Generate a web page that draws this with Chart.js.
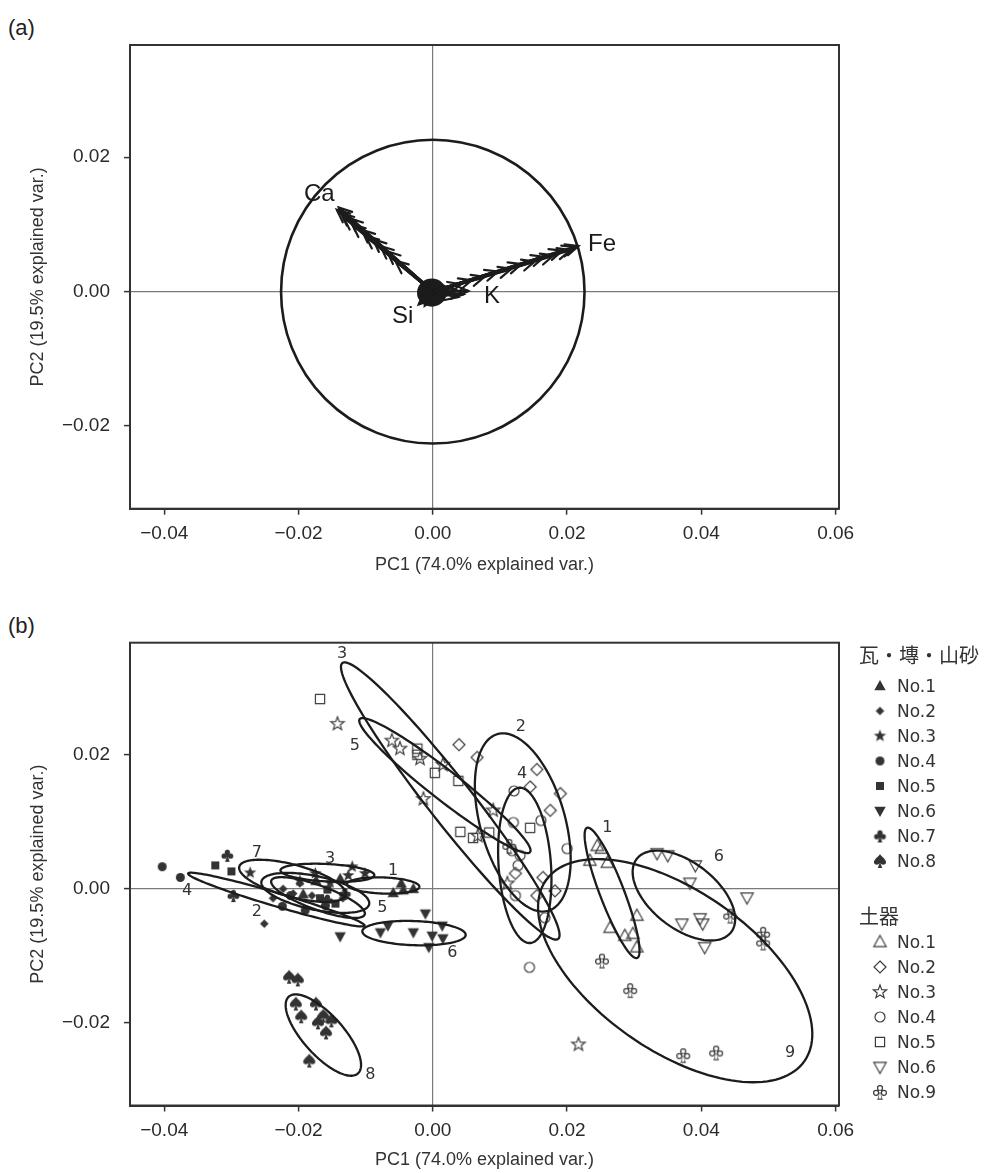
<!DOCTYPE html>
<html>
<head>
<meta charset="utf-8">
<script src="https://cdn.jsdelivr.net/npm/chart.js@4.4.1/dist/chart.umd.min.js"></script>
<style>
body { margin: 0; background: #fff; width: 988px; height: 1173px; position: relative; overflow: hidden;
       font-family: "Liberation Sans", Arial, sans-serif; color: #222; }
.panel { position: absolute; left: 0; width: 988px; }
.tag { position: absolute; left: 8px; font-size: 22px; line-height: 24px; }
#legend { position: absolute; left: 859px; top: 0; color: #333; }
.hd { position: absolute; left: 0; white-space: nowrap; font-family: "Noto Sans CJK JP", sans-serif; font-size: 20px; line-height: 28px; }
.it { position: absolute; left: 9px; white-space: nowrap; font-family: "DejaVu Sans", Verdana, sans-serif; font-size: 17px; line-height: 22px; }
.it .sym { display: inline-block; width: 24px; height: 22px; margin-right: 5px; vertical-align: top; position: relative; }
.it .sym canvas { position: absolute; left: 50%; top: 50%; transform: translate(-50%, -50%); }
</style>
</head>
<body>
<div class="tag" style="top:16px">(a)</div>
<div class="tag" style="top:614px">(b)</div>
<div class="panel" style="top:0;height:597px"><canvas id="chartA" width="988" height="597"></canvas></div>
<div class="panel" style="top:597px;height:576px"><canvas id="chartB" width="988" height="576"></canvas></div>
<div id="legend"></div>
<script>
// shared axes
const xTicks = [-0.04, -0.02, 0, 0.02, 0.04, 0.06];
const yTicks = [-0.02, 0, 0.02];
const xTitle = 'PC1 (74.0% explained var.)';
const yTitle = 'PC2 (19.5% explained var.)';

// (a) loading arrows, tip coordinates per element
const caTips = [[-0.0143, 0.0122], [-0.0140, 0.0125], [-0.0137, 0.0117], [-0.0133, 0.0111], [-0.0124, 0.0109], [-0.0120, 0.0100],
                [-0.0106, 0.0092], [-0.0100, 0.0083], [-0.0089, 0.0078], [-0.0078, 0.0068], [-0.0068, 0.0060], [-0.0056, 0.0046]];
const feTips = [[0.0217, 0.0068], [0.0212, 0.0066], [0.0205, 0.0062], [0.0193, 0.0061], [0.0180, 0.0054], [0.0166, 0.0052],
                [0.0152, 0.0045], [0.0132, 0.0041], [0.0117, 0.0034], [0.0097, 0.0030], [0.0077, 0.0022], [0.0058, 0.0017], [0.0042, 0.0011]];
const siTips = [[-0.0021, -0.0019], [-0.0016, -0.0011], [-0.0009, -0.0017], [-0.0019, -0.0005], [-0.0012, -0.0021]];
const kTips = [[0.0046, -0.0004], [0.0038, -0.0008], [0.0029, -0.0003], [0.0053, 0.0001], [0.0034, 0.0002]];
const varLabels = ['Ca', 'Fe', 'Si', 'K'];
const varLabelAt = [[-0.0169, 0.0144], [0.0252, 0.0070], [-0.0045, -0.0037], [0.0088, -0.0007]];
const circleR = 0.0226;
const blobR = 0.0022;

// (b) scores: 瓦・塼・山砂 (filled) and 土器 (open)
const tileNames = ['No.1', 'No.2', 'No.3', 'No.4', 'No.5', 'No.6', 'No.7', 'No.8'];
const tile1 = [[-0.0193, -0.0008], [-0.0174, 0.0012], [-0.0138, 0.0015], [-0.0059, -0.0006], [-0.0047, 0.0008], [-0.0029, 0.0000], [-0.0044, -0.0002]];
const tile2 = [[-0.0251, -0.0052], [-0.0223, 0.0000], [-0.0208, -0.0007], [-0.0238, -0.0014], [-0.0198, 0.0008], [-0.0180, -0.0010], [-0.0160, -0.0017], [-0.0134, -0.0014]];
const tile3 = [[-0.0272, 0.0024], [-0.0175, 0.0023], [-0.0153, 0.0009], [-0.0126, 0.0020], [-0.0120, 0.0033], [-0.0101, 0.0023], [-0.0198, 0.0012]];
const tile4 = [[-0.0403, 0.0033], [-0.0376, 0.0017], [-0.0224, -0.0026], [-0.0190, -0.0032], [-0.0160, -0.0025], [-0.0212, -0.0010]];
const tile5 = [[-0.0324, 0.0035], [-0.0300, 0.0026], [-0.0168, -0.0014], [-0.0145, -0.0022], [-0.0157, -0.0001]];
const tile6 = [[-0.0138, -0.0071], [-0.0078, -0.0065], [-0.0067, -0.0055], [-0.0029, -0.0065], [-0.0011, -0.0037], [-0.0001, -0.0070], [0.0014, -0.0055], [0.0015, -0.0074], [-0.0006, -0.0087]];
const tile7 = [[-0.0306, 0.0050], [-0.0297, -0.0010], [-0.0157, -0.0017], [-0.0131, -0.0007]];
const tile8 = [[-0.0214, -0.0131], [-0.0201, -0.0135], [-0.0204, -0.0171], [-0.0196, -0.0190], [-0.0174, -0.0171], [-0.0171, -0.0199], [-0.0151, -0.0196], [-0.0159, -0.0214], [-0.0163, -0.0189], [-0.0184, -0.0256]];

const potNames = ['No.1', 'No.2', 'No.3', 'No.4', 'No.5', 'No.6', 'No.9'];
const pot1 = [[0.0245, 0.0064], [0.0251, 0.0060], [0.0234, 0.0042], [0.0260, 0.0039], [0.0304, -0.0040], [0.0264, -0.0058], [0.0286, -0.0070], [0.0298, -0.0067], [0.0304, -0.0087]];
const pot2 = [[0.0039, 0.0215], [0.0066, 0.0196], [0.0155, 0.0178], [0.0145, 0.0152], [0.0190, 0.0142], [0.0175, 0.0117], [0.0164, 0.0017], [0.0155, -0.0010], [0.0182, -0.0003], [0.0123, 0.0023]];
const pot3 = [[-0.0142, 0.0246], [-0.0061, 0.0221], [-0.0049, 0.0209], [-0.0019, 0.0194], [0.0015, 0.0185], [-0.0014, 0.0134], [0.0090, 0.0117], [0.0067, 0.0079], [0.0111, 0.0008], [0.0217, -0.0232]];
const pot4 = [[0.0121, 0.0146], [0.0120, 0.0099], [0.0161, 0.0102], [0.0200, 0.0060], [0.0130, 0.0050], [0.0127, 0.0035], [0.0123, -0.0010], [0.0167, -0.0043], [0.0144, -0.0117], [0.0118, 0.0057]];
const pot5 = [[-0.0168, 0.0283], [-0.0023, 0.0209], [-0.0023, 0.0200], [0.0003, 0.0173], [0.0038, 0.0161], [0.0041, 0.0085], [0.0060, 0.0076], [0.0084, 0.0084], [0.0145, 0.0091]];
const pot6 = [[0.0334, 0.0053], [0.0350, 0.0050], [0.0391, 0.0035], [0.0383, 0.0009], [0.0468, -0.0013], [0.0371, -0.0052], [0.0398, -0.0044], [0.0402, -0.0052], [0.0405, -0.0087]];
const pot9 = [[0.0443, -0.0040], [0.0492, -0.0067], [0.0492, -0.0080], [0.0252, -0.0107], [0.0294, -0.0151], [0.0373, -0.0248], [0.0422, -0.0244], [0.0114, 0.0064]];

// confidence ellipses: centre x, centre y, semi-major, semi-minor, angle (deg)
const tileEllipses = [[-0.0074, 0.0005, 0.0054, 0.0012, -2], [-0.0175, -0.0006, 0.0082, 0.0025, -12], [-0.0157, 0.0024, 0.0070, 0.0013, -3],
                      [-0.0233, -0.0016, 0.0137, 0.0010, -16.5], [-0.0171, -0.0013, 0.0074, 0.0018, -20], [-0.0028, -0.0066, 0.0077, 0.0018, -2],
                      [-0.0209, 0.0012, 0.0082, 0.0024, -15], [-0.0163, -0.0218, 0.0077, 0.0030, -48]];
const tileEllipseTags = ['1', '2', '3', '4', '5', '6', '7', '8'];
const tileTagAt = [[-0.0059, 0.0027], [-0.0262, -0.0035], [-0.0153, 0.0045], [-0.0366, -0.0003], [-0.0075, -0.0029], [0.0029, -0.0096], [-0.0262, 0.0053], [-0.0093, -0.0278]];
const potEllipses = [[0.0267, -0.0006, 0.0104, 0.0018, -69], [0.0134, 0.0099, 0.0137, 0.0063, -74], [0.0026, 0.0131, 0.0261, 0.0033, -52],
                     [0.0137, 0.0035, 0.0116, 0.0039, -86], [0.0018, 0.0154, 0.0161, 0.0022, -38], [0.0374, -0.0010, 0.0089, 0.0049, -38],
                     [0.0361, -0.0122, 0.0235, 0.0119, -35]];
const potEllipseTags = ['1', '2', '3', '4', '5', '6', '9'];
const potTagAt = [[0.0260, 0.0091], [0.0131, 0.0242], [-0.0135, 0.0350], [0.0133, 0.0172], [-0.0116, 0.0213], [0.0426, 0.0047], [0.0532, -0.0245]];

const INK = '#1c1c1c';
const fmt = v => (v < -1e-9 ? '\u2212' : '') + Math.abs(v).toFixed(2);

function scaleOpts(axis, ticks, min, max, title, fit, titlePad) {
  return {
    type: 'linear', min: min, max: max,
    afterBuildTicks: s => { s.ticks = ticks.map(v => ({ value: v })); },
    afterFit: s => { if (axis === 'x') s.height = fit; else s.width = fit; },
    grid: {
      color: c => (c.tick && Math.abs(c.tick.value) < 1e-9 ? '#7a7a7a' : 'rgba(0,0,0,0)'),
      lineWidth: 1.2, tickColor: '#333', tickLength: 6, tickWidth: 1.5
    },
    border: { display: true, color: '#333', width: 2 },
    ticks: { color: '#2a2a2a', font: { family: 'Liberation Sans', size: 19 }, padding: axis === 'x' ? 8 : 14,
             autoSkip: false, maxRotation: 0, callback: v => fmt(v) },
    title: { display: true, text: title, color: '#333', font: { family: 'Liberation Sans', size: 18 }, padding: titlePad }
  };
}

const frame = {
  id: 'frame',
  afterDraw(chart) {
    const { ctx, chartArea: a } = chart;
    ctx.save();
    ctx.strokeStyle = '#333';
    ctx.lineWidth = 2;
    ctx.strokeRect(a.left, a.top, a.right - a.left, a.bottom - a.top);
    ctx.restore();
  }
};

// ---------- (a) biplot ----------
function arrowSet(tips) {
  return tips.map(t => ({
    data: [{ x: 0, y: 0 }, { x: t[0], y: t[1] }],
    showLine: true, arrow: true, borderColor: INK, borderWidth: 2.8, pointRadius: 0
  }));
}

const biplotDraw = {
  id: 'biplotDraw',
  beforeDatasetsDraw(chart) {
    const { ctx, scales: { x, y } } = chart;
    const cx = x.getPixelForValue(0), cy = y.getPixelForValue(0);
    ctx.save();
    ctx.strokeStyle = INK;
    ctx.lineWidth = 2.6;
    ctx.beginPath();
    ctx.ellipse(cx, cy, x.getPixelForValue(circleR) - cx, cy - y.getPixelForValue(circleR), 0, 0, 2 * Math.PI);
    ctx.stroke();
    const br = x.getPixelForValue(blobR) - cx;
    ctx.fillStyle = INK;
    ctx.beginPath();
    ctx.ellipse(cx - 1, cy + 1, br, br * 0.95, 0, 0, 2 * Math.PI);
    ctx.fill();
    ctx.restore();
  },
  afterDatasetsDraw(chart) {
    const { ctx, scales: { x, y } } = chart;
    ctx.save();
    ctx.strokeStyle = INK;
    ctx.lineWidth = 2.2;
    ctx.lineCap = 'round';
    chart.data.datasets.forEach((ds, i) => {
      if (!ds.arrow) return;
      const pts = chart.getDatasetMeta(i).data;
      const p0 = pts[0], p1 = pts[1];
      const ang = Math.atan2(p1.y - p0.y, p1.x - p0.x);
      const L = 14, w = 0.42;
      ctx.beginPath();
      ctx.moveTo(p1.x - L * Math.cos(ang - w), p1.y - L * Math.sin(ang - w));
      ctx.lineTo(p1.x, p1.y);
      ctx.lineTo(p1.x - L * Math.cos(ang + w), p1.y - L * Math.sin(ang + w));
      ctx.stroke();
    });
    ctx.fillStyle = '#1a1a1a';
    ctx.font = '24px "Liberation Sans"';
    ctx.textAlign = 'center';
    ctx.textBaseline = 'middle';
    varLabels.forEach((t, i) => {
      ctx.fillText(t, x.getPixelForValue(varLabelAt[i][0]), y.getPixelForValue(varLabelAt[i][1]));
    });
    ctx.restore();
  }
};

new Chart(document.getElementById('chartA'), {
  type: 'scatter',
  data: { datasets: [...arrowSet(caTips), ...arrowSet(feTips), ...arrowSet(siTips), ...arrowSet(kTips)] },
  options: {
    responsive: false, animation: false, events: [],
    layout: { padding: { left: 0, top: 45, right: 149, bottom: 0 } },
    plugins: { legend: { display: false }, tooltip: { enabled: false } },
    scales: {
      x: scaleOpts('x', xTicks, -0.0451, 0.0605, xTitle, 88.3, { top: 0, bottom: 21 }),
      y: scaleOpts('y', yTicks, -0.0323, 0.0367, yTitle, 130, { top: 27, bottom: 0 })
    }
  },
  plugins: [biplotDraw, frame]
});

// ---------- (b) scores ----------
function fillParts(g, parts) { parts.forEach(p => { g.beginPath(); p(); g.fill(); }); }

function clubParts(g, r, k) {
  // k: inset used to hollow the outline version
  const circ = (x, y, rr) => () => g.arc(x, y, Math.max(rr - k, 0.5), 0, 2 * Math.PI);
  const poly = pts => () => { pts.forEach((p, i) => (i ? g.lineTo(p[0], p[1]) : g.moveTo(p[0], p[1]))); g.closePath(); };
  return [circ(0, -0.5 * r, 0.4 * r), circ(-0.5 * r, 0.1 * r, 0.4 * r), circ(0.5 * r, 0.1 * r, 0.4 * r),
          circ(0, -0.05 * r, 0.3 * r), poly([[0, -0.05 * r], [-0.36 * r + k, r - k], [0.36 * r - k, r - k]])];
}

function spadeParts(g, r) {
  return [() => {
    g.moveTo(0, -r);
    g.bezierCurveTo(0.25 * r, -0.55 * r, 0.95 * r, -0.2 * r, 0.85 * r, 0.25 * r);
    g.bezierCurveTo(0.75 * r, 0.62 * r, 0.25 * r, 0.62 * r, 0, 0.3 * r);
    g.bezierCurveTo(-0.25 * r, 0.62 * r, -0.75 * r, 0.62 * r, -0.85 * r, 0.25 * r);
    g.bezierCurveTo(-0.95 * r, -0.2 * r, -0.25 * r, -0.55 * r, 0, -r);
    g.closePath();
  }, () => { g.moveTo(0, 0.15 * r); g.lineTo(-0.32 * r, r); g.lineTo(0.32 * r, r); g.closePath(); }];
}

function makeMarker(kind, open, r) {
  const s = Math.ceil(2 * r + 6);
  const c = document.createElement('canvas');
  c.width = s; c.height = s;
  const g = c.getContext('2d');
  g.translate(s / 2, s / 2);
  const ink = open ? '#3c3c3c' : '#333';
  g.fillStyle = ink; g.strokeStyle = ink; g.lineWidth = 1.2;
  if (kind === 'club') {
    fillParts(g, clubParts(g, r, 0));
    if (open) {
      g.globalCompositeOperation = 'destination-out';
      fillParts(g, clubParts(g, r, 1.25));
    }
    return c;
  }
  if (kind === 'spade') { fillParts(g, spadeParts(g, r)); return c; }
  g.beginPath();
  if (kind === 'tri') { g.moveTo(0, -r); g.lineTo(0.95 * r, 0.7 * r); g.lineTo(-0.95 * r, 0.7 * r); }
  else if (kind === 'tridown') { g.moveTo(0, r); g.lineTo(0.95 * r, -0.7 * r); g.lineTo(-0.95 * r, -0.7 * r); }
  else if (kind === 'diamond') { g.moveTo(0, -r); g.lineTo(r, 0); g.lineTo(0, r); g.lineTo(-r, 0); }
  else if (kind === 'square') { g.rect(-r, -r, 2 * r, 2 * r); }
  else if (kind === 'circle') { g.arc(0, 0, r, 0, 2 * Math.PI); }
  else if (kind === 'star') {
    for (let i = 0; i < 10; i++) {
      const rr = i % 2 ? r * 0.42 : r, a = -Math.PI / 2 + i * Math.PI / 5;
      i ? g.lineTo(rr * Math.cos(a), rr * Math.sin(a)) : g.moveTo(rr * Math.cos(a), rr * Math.sin(a));
    }
  }
  g.closePath();
  open ? g.stroke() : g.fill();
  return c;
}

const tileShapes = ['tri', 'diamond', 'star', 'circle', 'square', 'tridown', 'club', 'spade'];
const tileSizes = [6, 4.3, 6.5, 4.5, 4, 6, 6.5, 7];
const potShapes = ['tri', 'diamond', 'star', 'circle', 'square', 'tridown', 'club'];
const potSizes = [6.5, 6, 7, 5, 4.6, 6.5, 7.8];
const tileSeries = [tile1, tile2, tile3, tile4, tile5, tile6, tile7, tile8];
const potSeries = [pot1, pot2, pot3, pot4, pot5, pot6, pot9];

const tileMarks = tileShapes.map((k, i) => makeMarker(k, false, tileSizes[i]));
const potMarks = potShapes.map((k, i) => makeMarker(k, true, potSizes[i]));

function drawEllipse(ctx, xs, ys, e) {
  const [cx, cy, a, b, deg] = e;
  const phi = deg * Math.PI / 180;
  ctx.beginPath();
  for (let i = 0; i <= 140; i++) {
    const t = i / 140 * 2 * Math.PI;
    const ex = cx + a * Math.cos(t) * Math.cos(phi) - b * Math.sin(t) * Math.sin(phi);
    const ey = cy + a * Math.cos(t) * Math.sin(phi) + b * Math.sin(t) * Math.cos(phi);
    const px = xs.getPixelForValue(ex), py = ys.getPixelForValue(ey);
    i ? ctx.lineTo(px, py) : ctx.moveTo(px, py);
  }
  ctx.closePath();
  ctx.stroke();
}

const ellipseDraw = {
  id: 'ellipseDraw',
  afterDatasetsDraw(chart) {
    const { ctx, scales: { x, y } } = chart;
    ctx.save();
    ctx.strokeStyle = INK;
    ctx.lineWidth = 2.3;
    tileEllipses.concat(potEllipses).forEach(e => drawEllipse(ctx, x, y, e));
    ctx.fillStyle = '#333';
    ctx.font = '16px "DejaVu Sans"';
    ctx.textAlign = 'center';
    ctx.textBaseline = 'middle';
    tileEllipseTags.forEach((t, i) => ctx.fillText(t, x.getPixelForValue(tileTagAt[i][0]), y.getPixelForValue(tileTagAt[i][1])));
    potEllipseTags.forEach((t, i) => ctx.fillText(t, x.getPixelForValue(potTagAt[i][0]), y.getPixelForValue(potTagAt[i][1])));
    ctx.restore();
  }
};

const toPts = s => s.map(p => ({ x: p[0], y: p[1] }));

new Chart(document.getElementById('chartB'), {
  type: 'scatter',
  data: {
    datasets: [
      ...potSeries.map((s, i) => ({ label: '土器 ' + potNames[i], data: toPts(s), pointStyle: potMarks[i], pointRadius: 6 })),
      ...tileSeries.map((s, i) => ({ label: '瓦・塼・山砂 ' + tileNames[i], data: toPts(s), pointStyle: tileMarks[i], pointRadius: 6 }))
    ]
  },
  options: {
    responsive: false, animation: false, events: [],
    layout: { padding: { left: 0, top: 45.7, right: 149, bottom: 0 } },
    plugins: { legend: { display: false }, tooltip: { enabled: false } },
    scales: {
      x: scaleOpts('x', xTicks, -0.0451, 0.0605, xTitle, 67.5, { top: 0, bottom: 2 }),
      y: scaleOpts('y', yTicks, -0.0323, 0.0367, yTitle, 130, { top: 27, bottom: 0 })
    }
  },
  plugins: [ellipseDraw, frame]
});

// ---------- legend ----------
const legend = document.getElementById('legend');
function legendBlock(title, names, marks, headY, firstY) {
  const h = document.createElement('div');
  h.className = 'hd';
  h.style.top = (headY - 14) + 'px';
  h.textContent = title;
  legend.appendChild(h);
  names.forEach((n, i) => {
    const row = document.createElement('div');
    row.className = 'it';
    row.style.top = (firstY + i * 25 - 11) + 'px';
    const sym = document.createElement('span');
    sym.className = 'sym';
    const m = document.createElement('canvas');
    m.width = marks[i].width; m.height = marks[i].height;
    m.getContext('2d').drawImage(marks[i], 0, 0);
    sym.appendChild(m);
    row.appendChild(sym);
    row.appendChild(document.createTextNode(n));
    legend.appendChild(row);
  });
}
legendBlock('瓦・塼・山砂', tileNames, tileMarks, 655, 686);
legendBlock('土器', potNames, potMarks, 916, 941.5);
</script>
</body>
</html>
